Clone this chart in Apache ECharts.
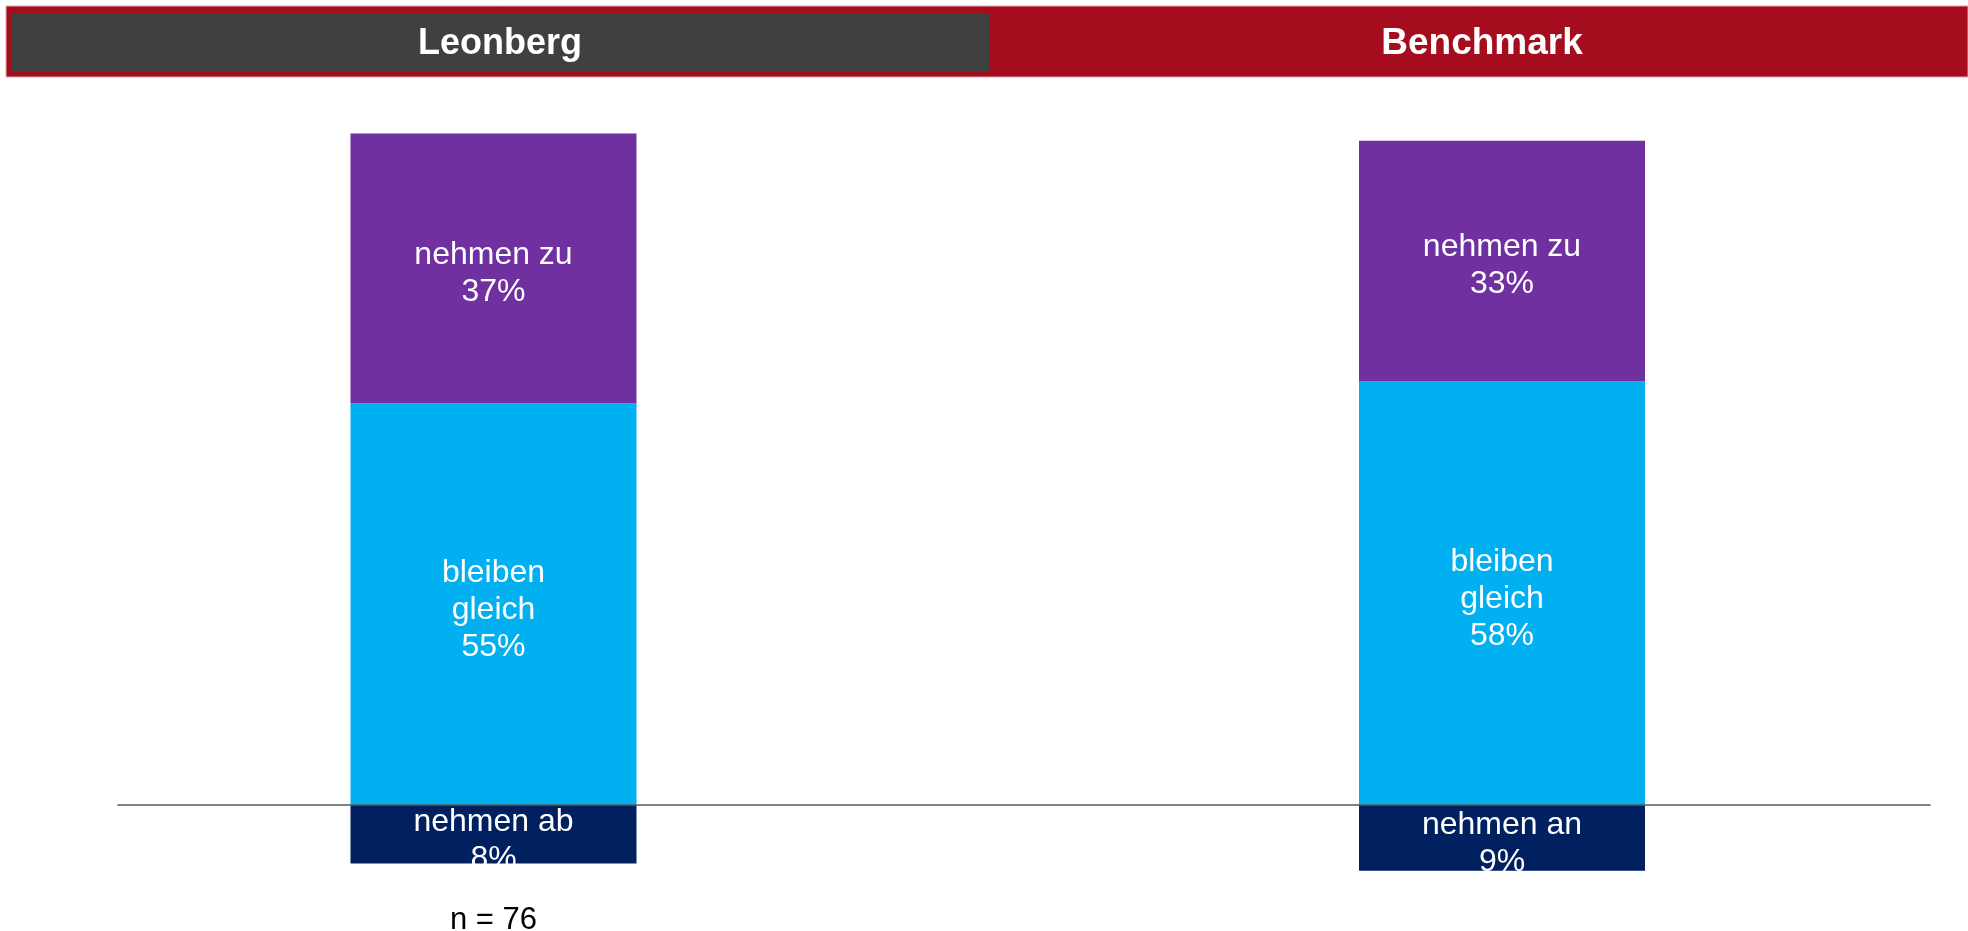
<!DOCTYPE html>
<html>
<head>
<meta charset="utf-8">
<title>Leonberg vs Benchmark</title>
<script src="https://cdn.jsdelivr.net/npm/echarts@6/dist/echarts.min.js"></script>
<style>
  html, body { margin: 0; padding: 0; background: #fff; }
  #main { width: 1968px; height: 931px; }
</style>
</head>
<body>
<div id="main"></div>
<script>
// Daten
var categories = ['Leonberg', 'Benchmark'];
var nLabels = ['n = 76', ''];
var zuValues = [37, 33];
var gleichValues = [55, 58];
var abValues = [-8, -9];
var abNames = ['nehmen ab', 'nehmen an'];

var chart = echarts.init(document.getElementById('main'));

var font = '"Liberation Sans", Arial, sans-serif';
var labelStyle = {
    show: true,
    position: 'inside',
    color: '#fff',
    fontSize: 32,
    lineHeight: 37,
    fontFamily: font
};

var option = {
    animation: false,
    backgroundColor: '#fff',
    graphic: [
        { type: 'rect', shape: { x: 6, y: 6, width: 1962, height: 71 }, style: { fill: '#A50D1F', stroke: '#E3A9B0', lineWidth: 1 } },
        { type: 'rect', shape: { x: 12, y: 13, width: 977, height: 58 }, style: { fill: '#404040' } },
        { type: 'text', x: 500, y: 44, style: { text: 'Leonberg', fill: '#fff', font: 'bold 36px ' + font, align: 'center', verticalAlign: 'middle' } },
        { type: 'text', x: 1482, y: 44, style: { text: 'Benchmark', fill: '#fff', font: 'bold 37px ' + font, align: 'center', verticalAlign: 'middle' } }
    ],
    // outerBoundsMode 'none': Achsenbeschriftung soll das Grid nicht verkleinern
    grid: [
        { left: 493.5, right: 466, top: 75, bottom: 53, outerBoundsMode: 'none' },
        { left: 118, right: 38, top: 75, bottom: 53, outerBoundsMode: 'none' }
    ],
    xAxis: [
        {
            gridIndex: 0,
            type: 'category',
            data: categories,
            boundaryGap: false,
            axisLine: { show: false, onZero: false },
            axisTick: { show: false },
            axisLabel: {
                margin: 27,
                fontSize: 31,
                color: '#000',
                fontFamily: font,
                formatter: function (v, i) { return nLabels[i]; }
            }
        },
        {
            gridIndex: 1,
            type: 'category',
            data: [''],
            z: 10,
            axisLine: { show: true, onZero: true, lineStyle: { color: '#595959', width: 1.5 } },
            axisTick: { show: false },
            axisLabel: { show: false }
        }
    ],
    yAxis: [
        { gridIndex: 0, type: 'value', min: -10, max: 100, show: false },
        { gridIndex: 1, type: 'value', min: -10, max: 100, show: false }
    ],
    series: [
        {
            name: 'nehmen ab',
            type: 'bar',
            stack: 'a',
            barWidth: 286,
            clip: false,
            data: abValues,
            itemStyle: { color: '#002060' },
            label: Object.assign({}, labelStyle, {
                offset: [0, 6],
                formatter: function (p) { return abNames[p.dataIndex] + '\n' + Math.abs(p.value) + '%'; }
            })
        },
        {
            name: 'bleiben gleich',
            type: 'bar',
            stack: 'a',
            barWidth: 286,
            clip: false,
            data: gleichValues,
            itemStyle: { color: '#00B0F0' },
            label: Object.assign({}, labelStyle, {
                offset: [0, 6],
                formatter: function (p) { return 'bleiben\ngleich\n' + p.value + '%'; }
            })
        },
        {
            name: 'nehmen zu',
            type: 'bar',
            stack: 'a',
            barWidth: 286,
            clip: false,
            data: zuValues,
            itemStyle: { color: '#7030A0' },
            label: Object.assign({}, labelStyle, {
                offset: [0, 5],
                formatter: function (p) { return 'nehmen zu\n' + p.value + '%'; }
            })
        },
        {
            type: 'line',
            xAxisIndex: 1,
            yAxisIndex: 1,
            data: [],
            silent: true
        }
    ]
};

chart.setOption(option);
</script>
</body>
</html>
